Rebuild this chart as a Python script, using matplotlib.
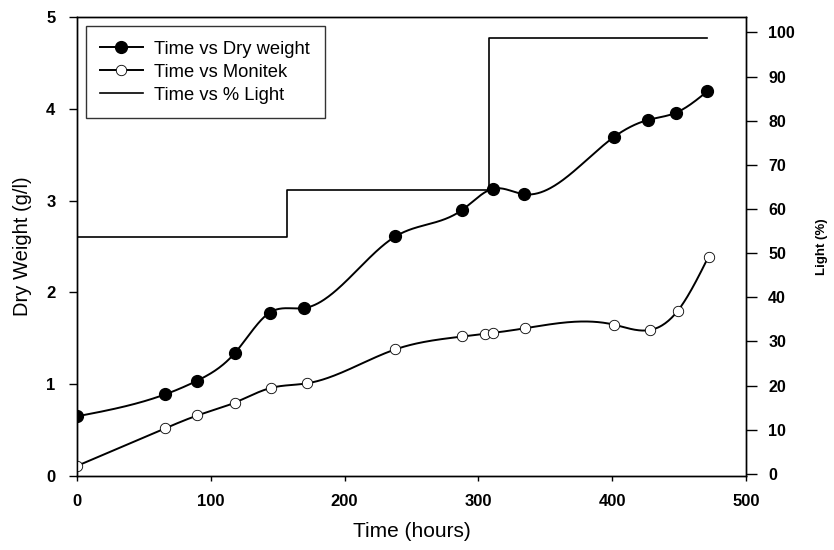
import numpy as np
import matplotlib.pyplot as plt
from matplotlib.lines import Line2D

plt.rcParams['font.family'] = ['Liberation Sans', 'DejaVu Sans']

# dry weight (g/l)
dry_t = [0, 66, 90, 118, 144, 170, 238, 288, 311, 334, 401, 427, 448, 471]
dry_w = [0.65, 0.89, 1.04, 1.34, 1.78, 1.83, 2.61, 2.90, 3.13, 3.07, 3.69, 3.88, 3.96, 4.19]

# monitek reading (same units as dry weight)
mon_t = [0, 66, 90, 118, 145, 172, 238, 288, 305, 311, 335, 401, 428, 449, 472]
mon_v = [0.11, 0.52, 0.66, 0.80, 0.96, 1.01, 1.38, 1.52, 1.55, 1.56, 1.61, 1.65, 1.59, 1.80, 2.39]

# light (%), step changes
light_t = [0, 157, 308, 471]
light_pct = [53.6, 64.2, 98.8, 98.8]


def natural_spline(x, y, num=600):
    # smooth line through the points, like the original plotting package
    x = np.asarray(x, float)
    y = np.asarray(y, float)
    n = len(x)
    h = np.diff(x)
    A = np.zeros((n, n))
    b = np.zeros(n)
    A[0, 0] = 1
    A[-1, -1] = 1
    for i in range(1, n - 1):
        A[i, i - 1] = h[i - 1]
        A[i, i] = 2 * (h[i - 1] + h[i])
        A[i, i + 1] = h[i]
        b[i] = 6 * ((y[i + 1] - y[i]) / h[i] - (y[i] - y[i - 1]) / h[i - 1])
    M = np.linalg.solve(A, b)
    xs = np.linspace(x[0], x[-1], num)
    k = np.clip(np.searchsorted(x, xs) - 1, 0, n - 2)
    dx1 = x[k + 1] - xs
    dx0 = xs - x[k]
    hk = h[k]
    ys = (M[k] * dx1**3 + M[k + 1] * dx0**3) / (6 * hk) \
        + (y[k] / hk - M[k] * hk / 6) * dx1 \
        + (y[k + 1] / hk - M[k + 1] * hk / 6) * dx0
    return xs, ys


fig = plt.figure(figsize=(8.34, 5.5), dpi=100)
ax = fig.add_axes([0.0923, 0.1345, 0.8022, 0.8345])
ax2 = ax.twinx()

sx, sy = natural_spline(dry_t, dry_w)
ax.plot(sx, sy, color='black', lw=1.4, zorder=3)
ax.plot(dry_t, dry_w, 'o', color='black', ms=8.5, zorder=4)

mx, my = natural_spline(mon_t, mon_v)
ax.plot(mx, my, color='black', lw=1.4, zorder=3)
ax.plot(mon_t, mon_v, 'o', mfc='white', mec='black', mew=0.6, ms=7.5, zorder=4)

ax2.plot(light_t, light_pct, drawstyle='steps-post', color='black', lw=1.2)

ax.set_xlim(0, 500)
ax.set_ylim(0, 5)
ax2.set_ylim(-0.5, 103.5)
ax.set_xticks(range(0, 501, 100))
ax.set_yticks(range(0, 6))
ax2.set_yticks(range(0, 101, 10))

ax.tick_params(axis='x', direction='out', length=3.6, width=1, labelsize=12, pad=9)
ax.tick_params(axis='y', direction='out', length=5.5, width=1, labelsize=12, pad=10)
ax2.tick_params(axis='y', direction='out', length=8, width=1, labelsize=11.5, pad=8)
for lab in ax.get_xticklabels() + ax.get_yticklabels() + ax2.get_yticklabels():
    lab.set_fontweight('bold')

for a in (ax, ax2):
    for s in a.spines.values():
        s.set_linewidth(1)

ax.set_xlabel('Time (hours)', fontsize=15, labelpad=10)
ax.set_ylabel('Dry Weight (g/l)', fontsize=14.5, labelpad=10)
ax2.set_ylabel('Light (%)', fontsize=9.5, fontweight='bold')
ax2.yaxis.set_label_coords(1.105, 0.5)

handles = [
    Line2D([], [], color='black', lw=1.4, marker='o', ms=8.5),
    Line2D([], [], color='black', lw=1.4, marker='o', mfc='white', mec='black', mew=0.6, ms=7.5),
    Line2D([], [], color='black', lw=1.2),
]
labels = ['Time vs Dry weight', 'Time vs Monitek', 'Time vs % Light']
leg = ax2.legend(handles, labels, loc='upper left', bbox_to_anchor=(0.013, 0.98),
                 fontsize=13.2, frameon=True, fancybox=False, handlelength=2.3,
                 borderpad=0.8, labelspacing=0.32, handletextpad=0.65, borderaxespad=0)
leg.get_frame().set_edgecolor('black')
leg.get_frame().set_linewidth(1)

fig.savefig('out.png', dpi=100)
